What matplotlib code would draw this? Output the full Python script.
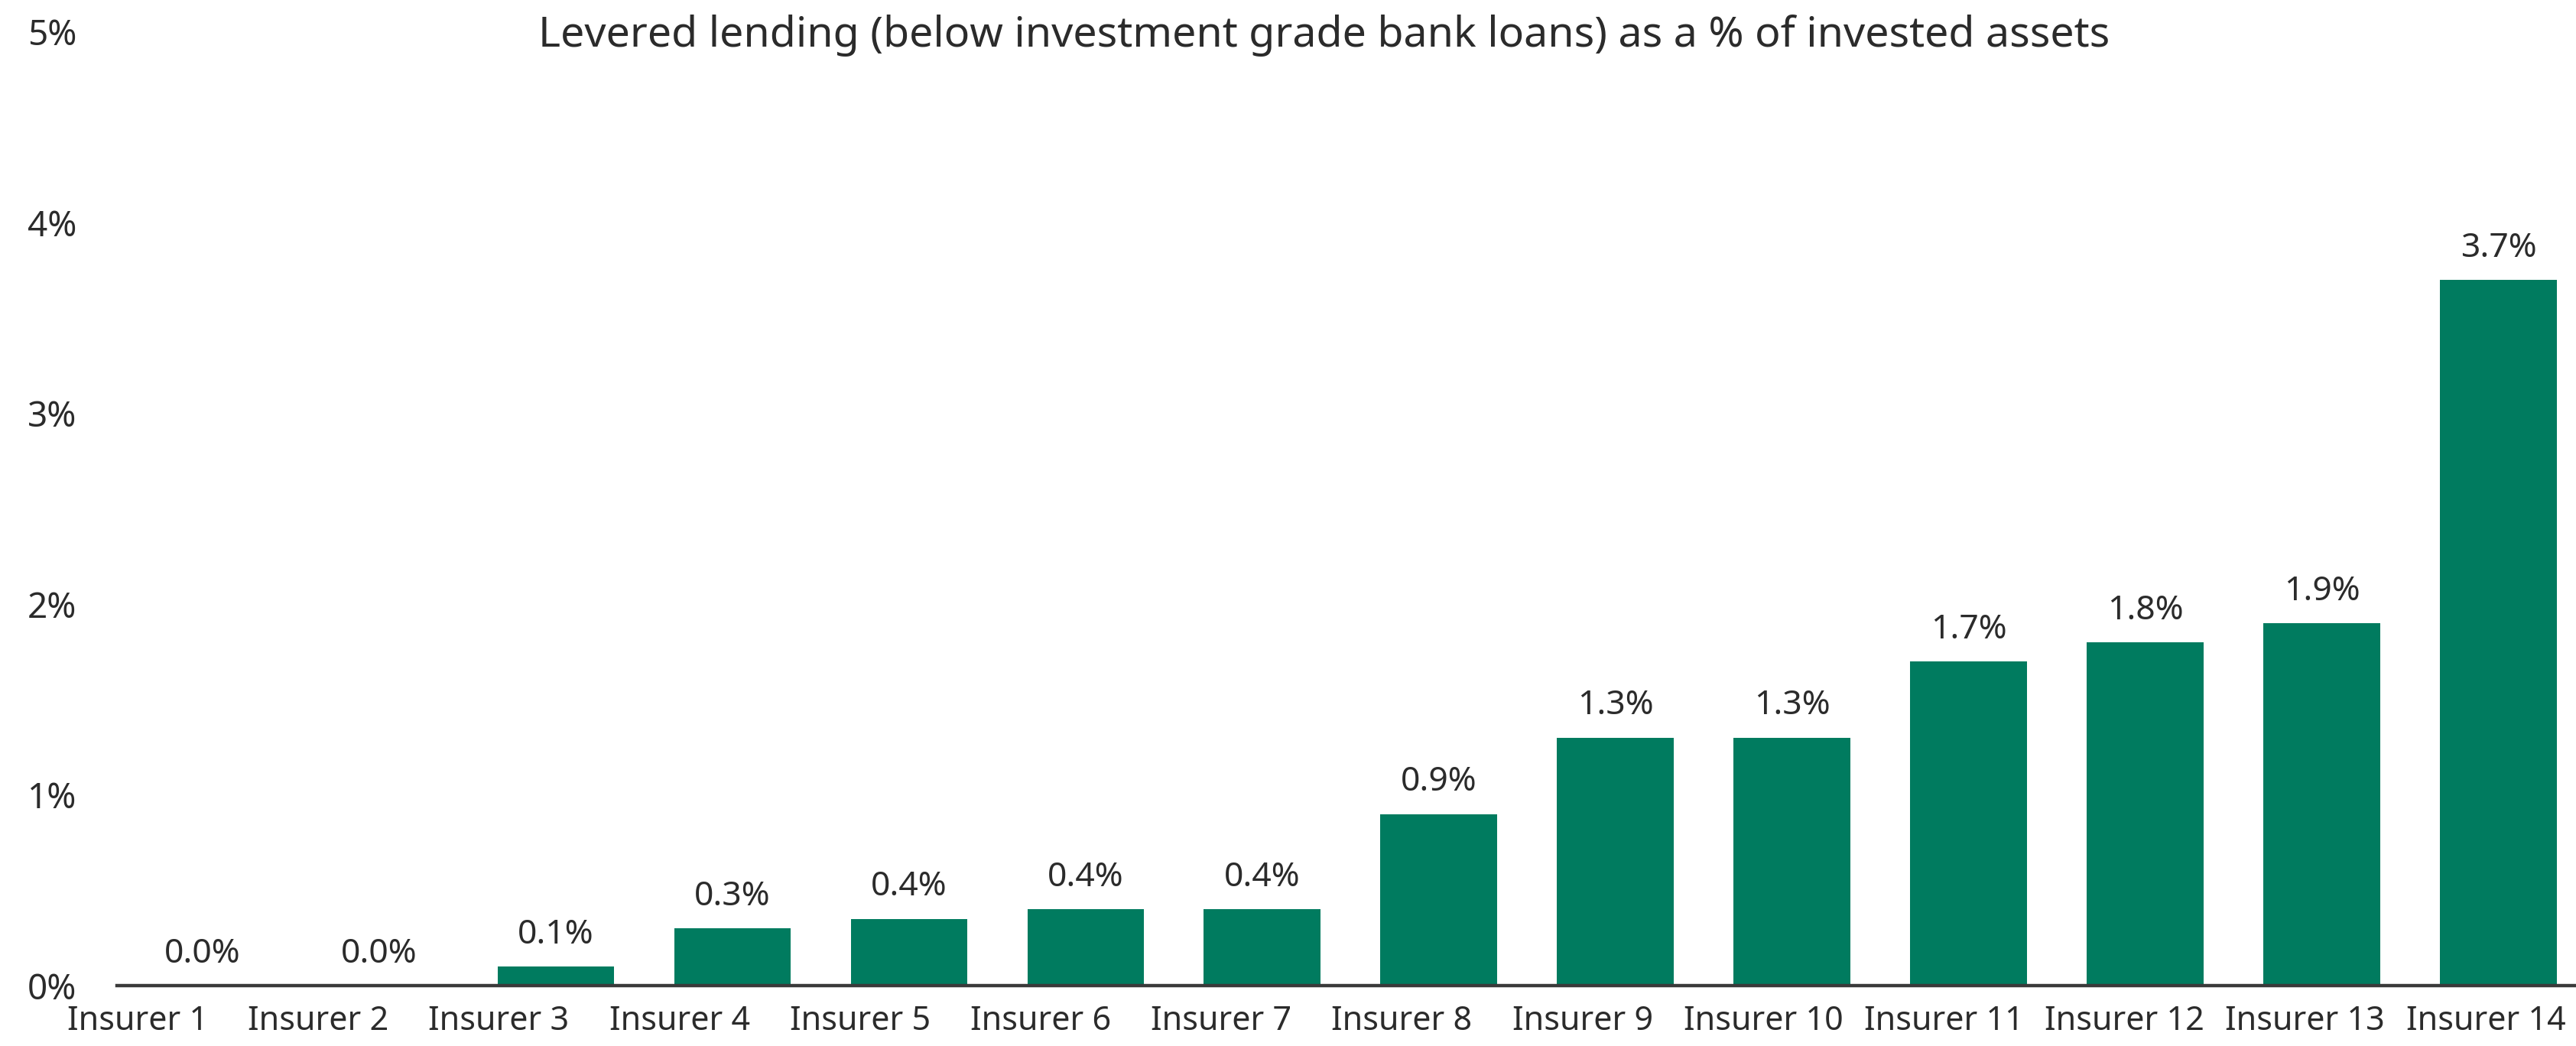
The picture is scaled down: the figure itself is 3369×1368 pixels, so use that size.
import matplotlib
matplotlib.use("Agg")
import matplotlib.pyplot as plt
import numpy as np

categories = ["Insurer 1", "Insurer 2", "Insurer 3", "Insurer 4", "Insurer 5",
              "Insurer 6", "Insurer 7", "Insurer 8", "Insurer 9", "Insurer 10",
              "Insurer 11", "Insurer 12", "Insurer 13", "Insurer 14"]
values = [0.0, 0.0, 0.1, 0.3, 0.35, 0.4, 0.4, 0.9, 1.3, 1.3, 1.7, 1.8, 1.9, 3.7]
value_labels = ["0.0%", "0.0%", "0.1%", "0.3%", "0.4%", "0.4%", "0.4%", "0.9%",
                "1.3%", "1.3%", "1.7%", "1.8%", "1.9%", "3.7%"]
y_ticks = [0, 1, 2, 3, 4, 5]
y_tick_labels = ["0%", "1%", "2%", "3%", "4%", "5%"]
title = "Levered lending (below investment grade bank loans) as a % of invested assets"

plt.rcParams['font.family'] = ['Noto Sans', 'DejaVu Sans']
TEXT = '#2b2b2b'
GREEN = '#007B5F'

fig = plt.figure(figsize=(33.69, 13.68), dpi=100)
ax = fig.add_axes([0.0454, 0.0577, 0.9546, 0.9116])

x = np.arange(len(categories))
ax.bar(x, values, width=0.66, color=GREEN, zorder=2)

ax.set_xlim(-0.485, 13.44)
ax.set_ylim(0, 5)
ax.set_yticks(y_ticks)
ax.set_yticklabels(y_tick_labels, fontsize=33, color=TEXT)
ax.tick_params(axis='y', length=0, pad=38)
ax.set_xticks([])

for s in ['top', 'right', 'left']:
    ax.spines[s].set_visible(False)
ax.spines['bottom'].set_color('#3a3a3a')
ax.spines['bottom'].set_linewidth(3.2)
ax.spines['bottom'].set_zorder(3)

for xi, v, lab in zip(x, values, value_labels):
    ax.annotate(lab, xy=(xi, v), xytext=(0, 14), textcoords='offset points',
                ha='center', va='bottom', fontsize=32, color=TEXT)

# category labels on their own axis (spread slightly differently than bars, as in reference)
ax2 = ax.twiny()
ax2.set_xlim(-0.114, 13.50)
ax2.xaxis.set_ticks_position('bottom')
ax2.xaxis.set_label_position('bottom')
ax2.set_xticks(x)
ax2.set_xticklabels(categories, fontsize=31, color=TEXT)
ax2.tick_params(axis='x', length=0, pad=18)
for s in ax2.spines.values():
    s.set_visible(False)

fig.text(0.514, 0.966, title, ha='center', va='center', fontsize=40, color=TEXT)

fig.savefig("out.png", dpi=100, facecolor='white')
